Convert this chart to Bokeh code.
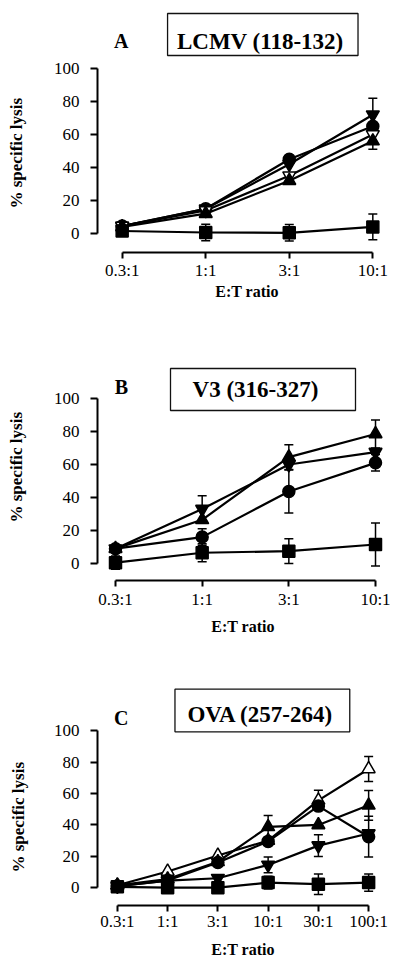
from bokeh.plotting import figure
from bokeh.layouts import column
from bokeh.models import (Range1d, FixedTicker, Label, BoxAnnotation, Whisker,
                          TeeHead, ColumnDataSource, Title)
from bokeh.embed import file_html
from bokeh.resources import INLINE

# ---------------- data ----------------
ratios_ab = ["0.3:1", "1:1", "3:1", "10:1"]
ratios_c = ["0.3:1", "1:1", "3:1", "10:1", "30:1", "100:1"]
y_ticks = [0, 20, 40, 60, 80, 100]

# Panel A: LCMV (118-132)
a_circle = [4.5, 15, 45, 65]
a_circle_err = [0, 0, 0, 0]
a_invtri = [4.5, 15, 42, 72]
a_invtri_err = [0, 0, 0, 10]
a_invtri_open = [4.5, 14, 35, 60]
a_invtri_open_err = [0, 0, 0, 0]
a_tri = [4, 12, 32, 56]
a_tri_err = [0, 0, 0, 5]
a_square = [1.5, 0.6, 0.4, 4]
a_square_err = [0, 5, 5, 7.8]

# Panel B: V3 (316-327)
b_tri = [9, 26.5, 64.5, 78.5]
b_tri_err = [0, 0, 7.5, 8.5]
b_invtri = [9, 33, 60, 67.5]
b_invtri_err = [0, 8, 0, 0]
b_circle = [9, 16, 43.6, 61]
b_circle_err = [0, 5, 13, 5]
b_square = [0.5, 6.5, 7.5, 11.5]
b_square_err = [4, 5.5, 7.5, 13]

# Panel C: OVA (257-264)
c_tri_open = [1.5, 10.3, 20.5, 30, 55.7, 75.7]
c_tri_open_err = [0, 0, 0, 0, 6.5, 8]
c_tri = [1.5, 5.5, 16.5, 38.8, 40, 52.5]
c_tri_err = [0, 0, 0, 7.2, 0, 9.5]
c_circle = [1, 4.5, 16, 29.5, 52, 32.5]
c_circle_err = [0, 0, 0, 0, 0, 13]
c_invtri = [1, 4.5, 6, 14.5, 26.8, 34.5]
c_invtri_err = [0, 0, 0, 5, 7, 0]
c_square = [0.5, 0, 0, 3.2, 2.2, 3.2]
c_square_err = [0, 0, 0, 4, 6.5, 5.5]

FONT = "Liberation Serif"
YLAB_LEN = 110  # approx. pixel length of the rotated y-axis title


def panel(fig_top, height, width, frame, px0, pdx, py0, pdy, labels, series,
          letter, letter_pos, title, title_pos, box, lbl_standoff,
          xlab_standoff, ylab_center, ylab_gap):
    fl, fr, ft, fb = frame  # page px
    n = len(labels)
    xr = Range1d((fl - px0) / pdx, (fr - px0) / pdx)
    yr = Range1d((py0 - fb) / pdy, (py0 - ft) / pdy)

    def dx(px):
        return (px - px0) / pdx

    def dy(py):
        return (py0 - py) / pdy

    p = figure(width=width, height=height, x_range=xr, y_range=yr,
               output_backend="svg", toolbar_location=None,
               min_border_left=fl, min_border_right=width - fr,
               min_border_top=ft - fig_top, min_border_bottom=fig_top + height - fb)
    p.xgrid.visible = False
    p.ygrid.visible = False
    p.outline_line_color = None
    p.background_fill_color = "white"

    ya = p.yaxis[0]
    ya.bounds = (0, 100)
    ya.ticker = FixedTicker(ticks=y_ticks)
    ya.minor_tick_line_color = None
    ya.major_tick_in = 0
    ya.major_tick_out = 7
    ya.axis_line_width = 2
    ya.major_tick_line_width = 2
    ya.major_label_text_font = FONT
    ya.major_label_text_font_size = "17px"
    ya.major_label_text_color = "black"
    ya.major_label_standoff = 11

    # spacer between axis and y title, then the y title itself
    p.add_layout(Title(text=" ", text_font_size="1px", standoff=ylab_gap), "left")
    offset = int(round(fb - ylab_center - YLAB_LEN / 2.0))
    p.add_layout(Title(text="% specific lysis", align="left", offset=offset,
                       text_font=FONT, text_font_style="bold",
                       text_font_size="17px", text_color="black",
                       standoff=0), "left")

    xa = p.xaxis[0]
    xa.bounds = (0, n - 1)
    xa.ticker = FixedTicker(ticks=list(range(n)))
    xa.major_label_overrides = {i: lab for i, lab in enumerate(labels)}
    xa.minor_tick_line_color = None
    xa.major_tick_in = 0
    xa.major_tick_out = 6
    xa.axis_line_width = 2
    xa.major_tick_line_width = 2
    xa.major_label_text_font = FONT
    xa.major_label_text_font_size = "17px"
    xa.major_label_text_color = "black"
    xa.major_label_standoff = lbl_standoff
    xa.axis_label = "E:T ratio"
    xa.axis_label_text_font = FONT
    xa.axis_label_text_font_style = "bold"
    xa.axis_label_text_font_size = "16px"
    xa.axis_label_text_color = "black"
    xa.axis_label_standoff = xlab_standoff

    xs = list(range(n))
    # error bars
    for marker, fill, vals, errs, size in series:
        ex = [x for x, e in zip(xs, errs) if e > 0]
        eu = [v + e for v, e in zip(vals, errs) if e > 0]
        el = [v - e for v, e in zip(vals, errs) if e > 0]
        if ex:
            src = ColumnDataSource(dict(x=ex, upper=eu, lower=el))
            w = Whisker(base="x", upper="upper", lower="lower", source=src,
                        line_width=1.5, line_color="black",
                        upper_head=TeeHead(size=9, line_width=1.5),
                        lower_head=TeeHead(size=9, line_width=1.5))
            p.add_layout(w)
    for marker, fill, vals, errs, size in series:
        p.line(xs, vals, line_width=2.2, line_color="black")
    for marker, fill, vals, errs, size in series:
        p.scatter(xs, vals, marker=marker, size=size, fill_color=fill,
                  line_color="black", line_width=1.5)

    bl, bt, br, bb = box
    p.add_layout(BoxAnnotation(left=dx(bl), right=dx(br), top=dy(bt), bottom=dy(bb),
                               fill_color="white", fill_alpha=1.0,
                               line_color="#111111", line_alpha=1.0,
                               line_width=1.3))
    p.add_layout(Label(x=dx(title_pos[0]), y=dy(title_pos[1]), text=title,
                       text_align="center", text_baseline="middle",
                       text_font=FONT, text_font_style="bold",
                       text_font_size="23px", text_color="black"))
    p.add_layout(Label(x=dx(letter_pos[0]), y=dy(letter_pos[1]), text=letter,
                       text_align="center", text_baseline="middle",
                       text_font=FONT, text_font_style="bold",
                       text_font_size="20px", text_color="black"))
    return p


pa = panel(0, 320, 400, (97, 400, 9, 252), 122, 84.67, 233, 1.65, ratios_ab,
           [("circle", "black", a_circle, a_circle_err, 12),
            ("inverted_triangle", "black", a_invtri, a_invtri_err, 13),
            ("inverted_triangle", "white", a_invtri_open, a_invtri_open_err, 13),
            ("triangle", "black", a_tri, a_tri_err, 13),
            ("square", "black", a_square, a_square_err, 12)],
           "A", (121, 40), "LCMV (118-132)", (262, 41), (168, 13, 361, 55),
           2, 0, 153, 22)

pb = panel(320, 324, 392, (97, 388, 330, 580), 115, 86.67, 563, 1.65, ratios_ab,
           [("triangle", "black", b_tri, b_tri_err, 13),
            ("inverted_triangle", "black", b_invtri, b_invtri_err, 13),
            ("circle", "black", b_circle, b_circle_err, 12),
            ("square", "black", b_square, b_square_err, 12)],
           "B", (121, 386), "V3 (316-327)", (255, 389), (170, 368, 355, 410),
           3, 6, 467, 22)

pc = panel(644, 316, 392, (95, 388, 650, 907), 115, 50.6, 889, 1.58, ratios_c,
           [("triangle", "white", c_tri_open, c_tri_open_err, 13),
            ("triangle", "black", c_tri, c_tri_err, 13),
            ("circle", "black", c_circle, c_circle_err, 12),
            ("inverted_triangle", "black", c_invtri, c_invtri_err, 13),
            ("square", "black", c_square, c_square_err, 12)],
           "C", (119, 718), "OVA (257-264)", (259, 714), (173, 689, 349, 732),
           0, 7, 819, 20)

layout = column(pa, pb, pc, spacing=0)
open("out.html", "w").write(file_html(layout, INLINE))
